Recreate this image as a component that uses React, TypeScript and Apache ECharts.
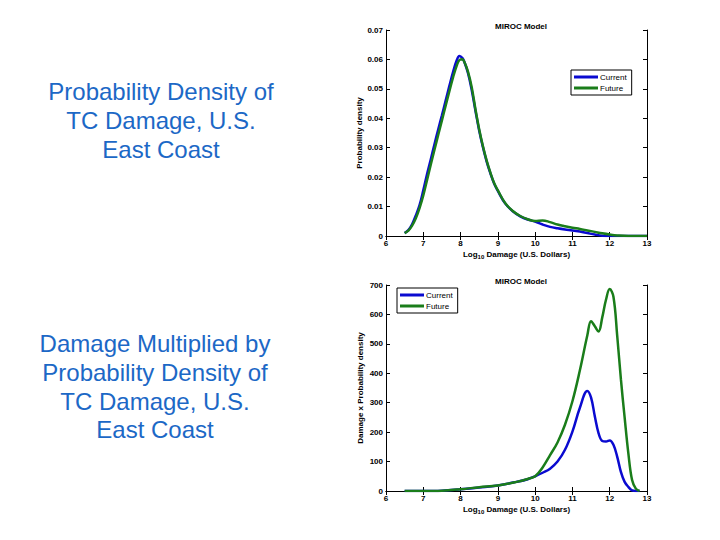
import React, { useEffect, useRef } from "react";
import * as echarts from "echarts";

const xTicks = [6, 7, 8, 9, 10, 11, 12, 13];

const pdfX = [6.5, 6.6, 6.7, 6.8, 6.9, 7.0, 7.1, 7.2, 7.3, 7.4, 7.5, 7.6, 7.7, 7.8, 7.9, 7.97, 8.05, 8.1, 8.2, 8.3, 8.4, 8.5, 8.6, 8.7, 8.8, 8.9, 9.0, 9.2, 9.4, 9.6, 9.8, 10.0, 10.2, 10.4, 10.6, 10.8, 11.0, 11.2, 11.4, 11.6, 11.8, 12.0, 12.2, 12.5, 13.0];
const pdfCurrent = [0.001, 0.002, 0.004, 0.007, 0.0105, 0.0155, 0.021, 0.026, 0.0312, 0.0362, 0.041, 0.046, 0.051, 0.0558, 0.0598, 0.0612, 0.0605, 0.0592, 0.0553, 0.0495, 0.0425, 0.0358, 0.0302, 0.0253, 0.0213, 0.0178, 0.0153, 0.011, 0.0084, 0.0067, 0.0056, 0.0049, 0.0039, 0.0031, 0.0026, 0.0022, 0.0019, 0.0015, 0.001, 0.0005, 0.0001, 0.0, 0.0, 0.0, 0.0];
const pdfFuture = [0.001, 0.0018, 0.0035, 0.006, 0.0095, 0.0138, 0.019, 0.0242, 0.0293, 0.0343, 0.0393, 0.0443, 0.0492, 0.054, 0.058, 0.0598, 0.0601, 0.0592, 0.0558, 0.0505, 0.043, 0.0362, 0.0305, 0.0256, 0.0215, 0.018, 0.0155, 0.0111, 0.0085, 0.0068, 0.0057, 0.0051, 0.0053, 0.0047, 0.0039, 0.0033, 0.0028, 0.0024, 0.0019, 0.0014, 0.0009, 0.0005, 0.0002, 0.0, 0.0];

const dmgX = [6.5, 7.0, 7.5, 8.0, 8.5, 9.0, 9.5, 9.8, 10.0, 10.2, 10.4, 10.6, 10.8, 11.0, 11.2, 11.4, 11.5, 11.6, 11.7, 11.8, 11.9, 12.0, 12.1, 12.2, 12.3, 12.4, 12.5, 12.6, 12.7, 12.8];
const dmgCurrent = [0, 0, 1, 6, 12, 19, 31, 40, 50, 62, 76, 100, 140, 202, 283, 340, 317, 254, 197, 170, 168, 172, 157, 117, 65, 31, 14, 2, 0, 0];
const dmgFuture = [0, 0, 1, 6, 13, 19, 31, 41, 50, 80, 122, 165, 225, 305, 410, 529, 577, 560, 542, 590, 650, 686, 660, 529, 380, 250, 128, 37, 8, 0];

const titles = ["MIROC Model", "MIROC Model"];
const leftTexts = [
  "Probability Density of\nTC Damage, U.S.\nEast Coast",
  "Damage Multiplied by\nProbability Density of\nTC Damage, U.S.\nEast Coast",
];

const BLUE = "#0a0ad0";
const GREEN = "#1a7d1a";
const TEXT_BLUE = "#1c68c6";
const FONT = "Liberation Sans, Arial, sans-serif";

function pairs(xs: number[], ys: number[]) {
  return xs.map((x, i) => [x, ys[i]]);
}

export default function App() {
  const ref = useRef<HTMLDivElement>(null);
  useEffect(() => {
    if (!ref.current) return;
    const chart = echarts.init(ref.current, null, { renderer: "svg" });
    const lbl = { fontSize: 8, fontWeight: "bold" as const, color: "#000", fontFamily: FONT };
    const grids = [
      { left: 386, top: 30, width: 261, height: 206 },
      { left: 386, top: 285, width: 261, height: 206 },
    ];
    const xAxes: any[] = [];
    const yAxes: any[] = [];
    const yCfg = [
      { max: 0.07, interval: 0.01, name: "Probability density" },
      { max: 700, interval: 100, name: "Damage x Probability density" },
    ];
    [0, 1].forEach((g) => {
      xAxes.push({
        type: "value", gridIndex: g, min: xTicks[0], max: xTicks[xTicks.length - 1], interval: 1,
        axisLine: { show: true, lineStyle: { color: "#000", width: 1 } },
        axisTick: { show: true, inside: true, length: 4, lineStyle: { color: "#000" } },
        axisLabel: { ...lbl, margin: 3 },
        splitLine: { show: false },
        name: "Log{sub|10} Damage (U.S. Dollars)",
        nameLocation: "middle", nameGap: 13,
        nameTextStyle: { ...lbl, rich: { sub: { fontSize: 6, fontWeight: "bold", verticalAlign: "bottom", padding: [5, 0, 0, 0], fontFamily: FONT } } },
      });
      xAxes.push({
        type: "value", gridIndex: g, position: "top", min: 6, max: 13, interval: 1,
        axisLine: { show: true, lineStyle: { color: "#000", width: 1 } },
        axisTick: { show: true, inside: true, length: 4, lineStyle: { color: "#000" } },
        axisLabel: { show: false }, splitLine: { show: false },
      });
      yAxes.push({
        type: "value", gridIndex: g, min: 0, max: yCfg[g].max, interval: yCfg[g].interval,
        axisLine: { show: true, lineStyle: { color: "#000", width: 1 } },
        axisTick: { show: true, inside: true, length: 4, lineStyle: { color: "#000" } },
        axisLabel: { ...lbl, margin: 3 },
        splitLine: { show: false },
        name: yCfg[g].name, nameLocation: "middle", nameGap: 22, nameTextStyle: lbl,
      });
      yAxes.push({
        type: "value", gridIndex: g, position: "right", min: 0, max: yCfg[g].max, interval: yCfg[g].interval,
        axisLine: { show: true, lineStyle: { color: "#000", width: 1 } },
        axisTick: { show: true, inside: true, length: 4, lineStyle: { color: "#000" } },
        axisLabel: { show: false }, splitLine: { show: false },
      });
    });
    const mk = (name: string, g: number, data: number[][], color: string) => ({
      type: "line", name, xAxisIndex: g * 2, yAxisIndex: g * 2, data,
      smooth: 0.4, showSymbol: false, symbol: "none",
      lineStyle: { color, width: 2.5 }, itemStyle: { color },
    });
    const legendBase = {
      orient: "vertical", icon: "rect", itemWidth: 24, itemHeight: 3, itemGap: 3,
      borderColor: "#000", borderWidth: 1, padding: [3, 5, 3, 3], backgroundColor: "#fff",
      textStyle: { fontSize: 8, color: "#000", fontFamily: FONT, padding: [0, 0, 0, -3] },
      data: ["Current", "Future"], selectedMode: false,
    };
    chart.setOption({
      animation: false,
      backgroundColor: "#fff",
      title: titles.map((t, i) => ({
        text: t, left: 516, top: i === 0 ? 17 : 272, textAlign: "center",
        textStyle: { ...lbl },
      })),
      legend: [
        { ...legendBase, left: 571, top: 70 },
        { ...legendBase, left: 397, top: 288 },
      ],
      grid: grids.map((g) => ({ ...g, show: false })),
      xAxis: xAxes,
      yAxis: yAxes,
      series: [
        mk("Current", 0, pairs(pdfX, pdfCurrent), BLUE),
        mk("Future", 0, pairs(pdfX, pdfFuture), GREEN),
        mk("Current", 1, pairs(dmgX, dmgCurrent), BLUE),
        mk("Future", 1, pairs(dmgX, dmgFuture), GREEN),
      ],
      graphic: [
        { type: "text", x: 161, y: 77, style: { text: leftTexts[0], fontSize: 24, lineHeight: 28.8, fontFamily: FONT, fill: TEXT_BLUE, align: "center", verticalAlign: "top" } },
        { type: "text", x: 155, y: 329, style: { text: leftTexts[1], fontSize: 24, lineHeight: 28.8, fontFamily: FONT, fill: TEXT_BLUE, align: "center", verticalAlign: "top" } },
      ],
    });
    return () => chart.dispose();
  }, []);
  return <div ref={ref} style={{ position: "fixed", left: 0, top: 0, width: 720, height: 540 }} />;
}
